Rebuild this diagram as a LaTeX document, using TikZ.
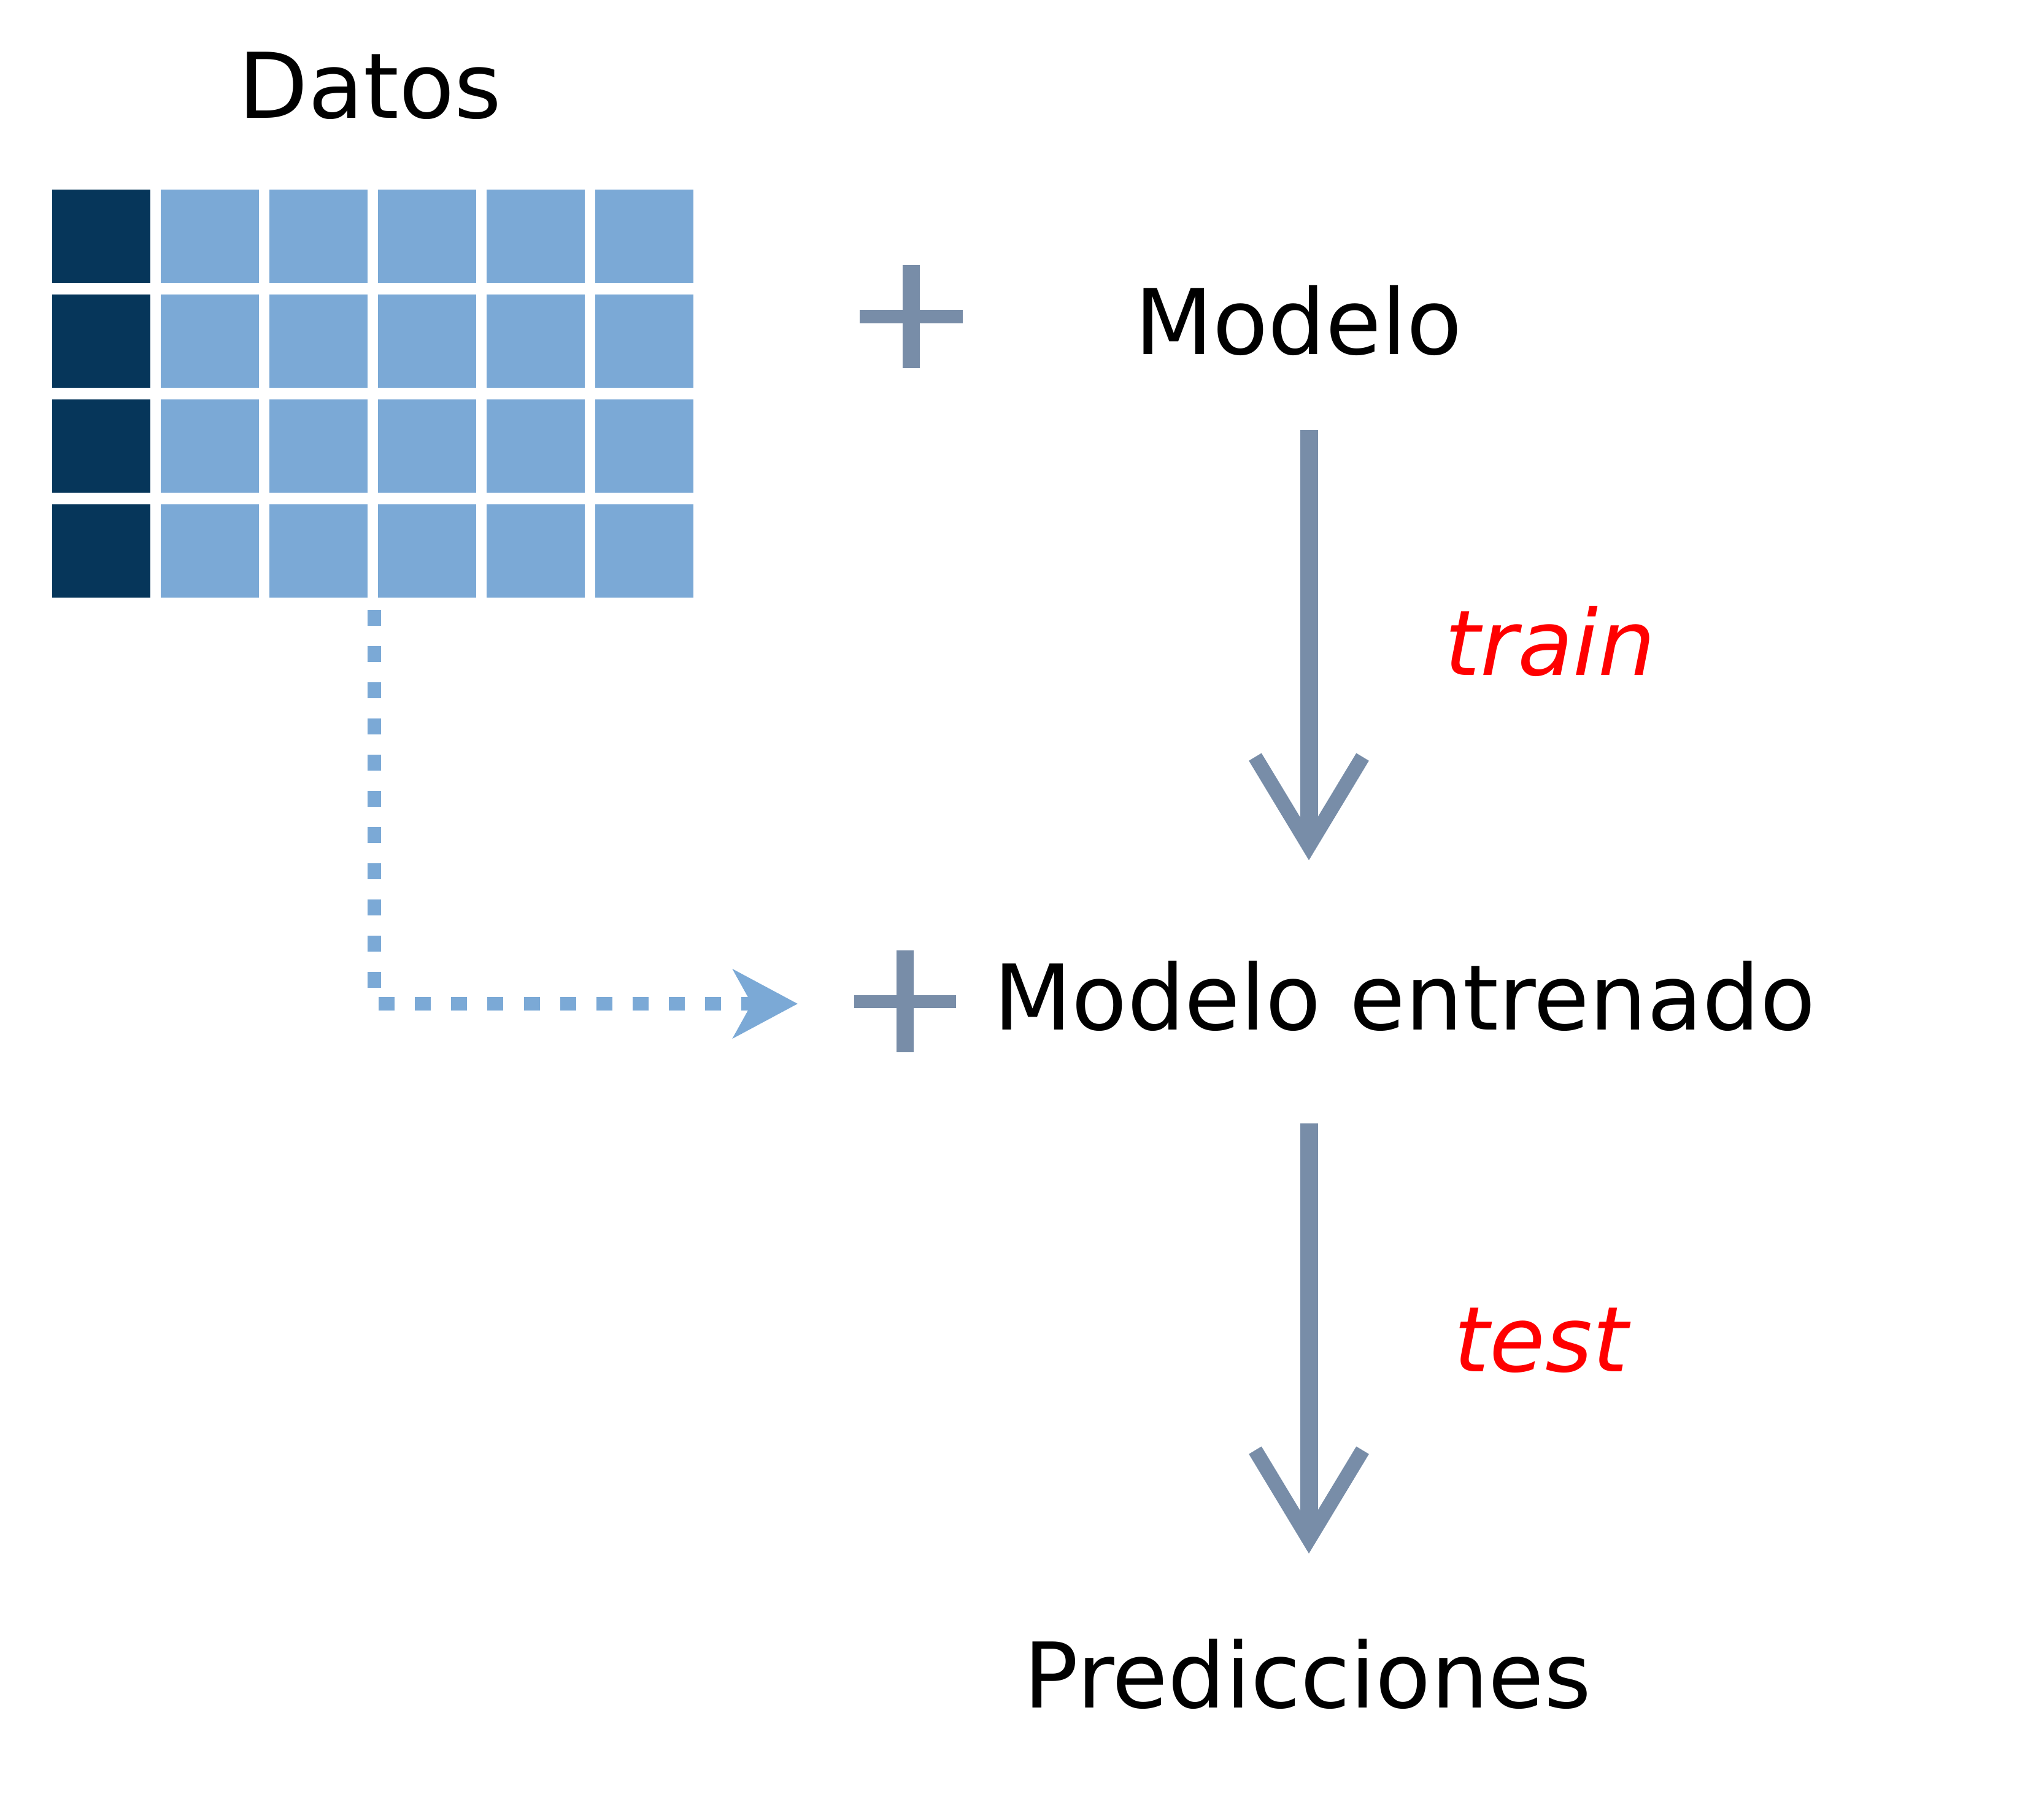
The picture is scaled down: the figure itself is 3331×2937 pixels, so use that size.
\documentclass[tikz,border=0pt]{standalone}
\usepackage{fontspec}
\setmainfont{DejaVu Sans}
\usepackage{tikz}
\usetikzlibrary{positioning, arrows.meta}

\definecolor{celldark}{HTML}{06365A}
\definecolor{celllight}{HTML}{7BA9D6}
\definecolor{arrowgray}{HTML}{788DA8}

\begin{document}
\begin{tikzpicture}[x=0.01cm, y=-0.01cm,
    word/.style={font=\fontsize{42}{50}\selectfont, inner sep=0pt, anchor=base},
    stepword/.style={font=\fontsize{42}{50}\selectfont\itshape, text=red, inner sep=0pt, anchor=base west},
    cell/.style={inner sep=0pt, minimum width=1.60cm, minimum height=1.52cm},
    plusline/.style={arrowgray, line width=0.21cm},
    plusbar/.style={arrowgray, line width=0.28cm},
    flow/.style={arrowgray, line width=0.29cm,
        -{Straight Barb[length=1.45cm, width=1.75cm, line width=0.24cm]}},
    feed/.style={celllight, line width=0.22cm, dash pattern=on 0.26cm off 0.33cm,
        -{Stealth[length=1.05cm, width=1.11cm, inset=0.3cm]}}]

    \useasboundingbox (0,0) rectangle (3331,2937);

    % Data table
    \node[word] (datos) at (603,193) {Datos};
    \foreach \r in {0,...,3}
        \foreach \c/\col in {0/celldark, 1/celllight, 2/celllight, 3/celllight, 4/celllight, 5/celllight}
            \node[cell, fill=\col] (c-\r-\c) at ({165+\c*177},{385+\r*171}) {};

    % Model
    \coordinate (p1) at (1485,516);
    \draw[plusline] (p1) ++(-84,0) -- ++(168,0);
    \draw[plusbar] (p1) ++(0,-84) -- ++(0,168);
    \node[word] (modelo) at (2116,578) {Modelo};

    % Training step
    \coordinate (a1s) at (2133,701);
    \coordinate (a1e) at (2133,1402);
    \draw[flow] (a1s) -- (a1e);
    \node[stepword] (train) at (2354,1100) {train};

    % Trained model
    \coordinate (p2) at (1475,1632);
    \draw[plusline] (p2) ++(-83,0) -- ++(166,0);
    \draw[plusbar] (p2) ++(0,-83) -- ++(0,166);
    \node[word] (entrenado) at (2289,1678) {Modelo entrenado};

    % Data goes to the trained model
    \coordinate (d0) at (610,994);
    \coordinate (d1) at (1300,1636);
    \draw[feed] (d0) |- (d1);

    % Test step
    \coordinate (a2s) at (2133,1831);
    \coordinate (a2e) at (2133,2532);
    \draw[flow] (a2s) -- (a2e);
    \node[stepword] (test) at (2369,2235) {test};

    % Predictions
    \node[word] (pred) at (2131,2783) {Predicciones};

\end{tikzpicture}
\end{document}
